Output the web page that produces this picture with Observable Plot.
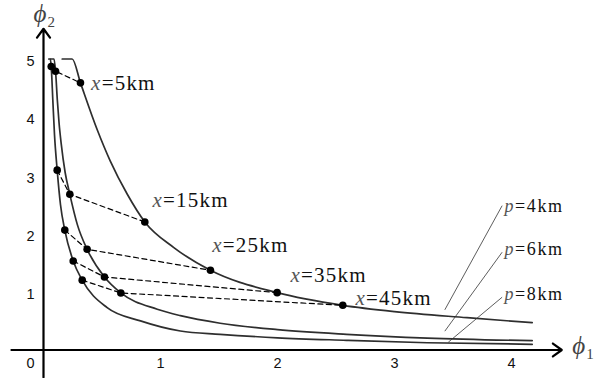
<!DOCTYPE html>
<html><head><meta charset="utf-8">
<script src="https://cdn.jsdelivr.net/npm/d3@7"></script>
<script src="https://cdn.jsdelivr.net/npm/@observablehq/plot@0.6"></script>
<style>body{margin:0;background:#fff}#chart{width:602px;height:378px}</style>
</head><body><div id="chart"></div>
<script>
// ---- data ----
const seriesNames = ["p=4km", "p=6km", "p=8km"];
const curveP4 = [[0.16,5.0],[0.245,5.0],[0.316,4.59],[0.46,3.78],[0.57,3.25],[0.715,2.68],[0.866,2.20],[1.114,1.76],[1.427,1.37],[1.997,0.985],[2.558,0.768],[3.0,0.66],[3.62,0.555],[4.177,0.469]];
const curveP6 = [[0.06,5.0],[0.09,5.0],[0.103,4.79],[0.118,4.3],[0.133,3.9],[0.151,3.55],[0.185,3.05],[0.225,2.675],[0.29,2.15],[0.373,1.73],[0.521,1.254],[0.661,0.98],[0.972,0.70],[1.17,0.59],[1.51,0.46],[2.0,0.35],[2.59,0.27],[3.28,0.205],[4.177,0.16]];
const curveP8 = [[0.045,5.0],[0.058,5.0],[0.066,4.87],[0.08,4.28],[0.094,3.7],[0.117,3.09],[0.145,2.5],[0.182,2.06],[0.254,1.53],[0.331,1.20],[0.544,0.727],[0.829,0.50],[1.17,0.326],[1.51,0.27],[2.0,0.21],[2.59,0.167],[3.28,0.125],[4.177,0.098]];
const distances = ["x=5km", "x=15km", "x=25km", "x=35km", "x=45km"];
const dotsP4 = [[0.316,4.59],[0.866,2.20],[1.427,1.37],[1.997,0.985],[2.558,0.768]];
const dotsP6 = [[0.103,4.79],[0.225,2.675],[0.373,1.73],[0.521,1.254],[0.661,0.98]];
const dotsP8 = [[0.066,4.87],[0.117,3.09],[0.182,2.06],[0.254,1.53],[0.331,1.20]];
const xTicks = [1, 2, 3, 4];
const yTicks = [1, 2, 3, 4, 5];
const xAxisTitle = "ϕ1";
const yAxisTitle = "ϕ2";

// ---- layout (annotation anchors, in data units) ----
const distLabelPos = [[0.407,4.58],[0.932,2.57],[1.442,1.795],[2.111,1.29],[2.667,0.885]];
const seriesLabelPos = [[3.94,2.47],[3.94,1.73],[3.94,0.95]];
const leaderEnds = [[3.43,0.69],[3.43,0.323],[3.46,0.134]];
const leaderStart = [[3.92,2.48],[3.92,1.68],[3.92,0.907]];
const xAxisExtent = [-0.274, 4.43];
const yAxisExtent = [-0.47, 5.52];

// ---- tables ----
const curves = [curveP4, curveP6, curveP8].flatMap((c, i) => c.map(([x, y]) => ({x, y, s: seriesNames[i]})));
const dotRows = [dotsP8, dotsP6, dotsP4].flatMap((d, j) => d.map(([x, y], i) => ({x, y, g: distances[i], order: j})));
const dashRows = d3.sort(dotRows, d => distances.indexOf(d.g), d => d.order);
const distLabels = distances.map((t, i) => ({t, x: distLabelPos[i][0], y: distLabelPos[i][1]}));
const seriesLabels = seriesNames.map((t, i) => ({t, x: seriesLabelPos[i][0], y: seriesLabelPos[i][1]}));
const leaders = seriesNames.map((t, i) => ({x1: leaderStart[i][0], y1: leaderStart[i][1], x2: leaderEnds[i][0], y2: leaderEnds[i][1]}));

const SERIF = "'Liberation Serif','Times New Roman',serif";
const SANS = "'Liberation Sans',Arial,sans-serif";

const svg = Plot.plot({
  width: 602, height: 378,
  marginTop: 0, marginRight: 0, marginBottom: 0, marginLeft: 0,
  x: {type: "linear", domain: [0, 4], range: [43, 511], axis: null},
  y: {type: "linear", domain: [0, 5], range: [349.5, 58.5], axis: null},
  style: {background: "white", overflow: "visible"},
  marks: [
    Plot.line(curves, {x: "x", y: "y", z: "s", curve: "monotone-x", stroke: "#2e2e2e", strokeWidth: 1.7}),
    Plot.line(dashRows, {x: "x", y: "y", z: "g", stroke: "#000", strokeWidth: 1.2, strokeDasharray: "5,3.5"}),
    Plot.dot(dotRows, {x: "x", y: "y", r: 3.8, fill: "#000", stroke: "none"}),
    Plot.link(leaders, {x1: "x1", y1: "y1", x2: "x2", y2: "y2", stroke: "#333", strokeWidth: 0.8}),
    Plot.arrow([0], {x1: xAxisExtent[0], x2: xAxisExtent[1], y1: 0, y2: 0, stroke: "#000", strokeWidth: 2.2, headAngle: 72, headLength: 7.5}),
    Plot.arrow([0], {x1: 0, x2: 0, y1: yAxisExtent[0], y2: yAxisExtent[1], stroke: "#000", strokeWidth: 2.2, headAngle: 72, headLength: 7.5}),
    Plot.text(xTicks, {x: d => d, y: 0, text: d => String(d), dy: 13.5, fontSize: 14.5, fill: "#111"}),
    Plot.text(yTicks, {x: 0, y: d => d, text: d => String(d), dx: -9, dy: 2.5, textAnchor: "end", fontSize: 14.5, fill: "#111"}),
    Plot.text([0], {x: 0, y: 0, text: ["0"], dx: -13, dy: 13.5, fontSize: 14.5, fill: "#111"}),
    Plot.text(distLabels, {x: "x", y: "y", text: "t", textAnchor: "start", fontSize: 21, fill: "#111"}),
    Plot.text(seriesLabels, {x: "x", y: "y", text: "t", textAnchor: "start", fontSize: 18, fill: "#111"}),
    Plot.text([yAxisTitle], {x: -0.085, y: 5.64, text: d => d, textAnchor: "start", lineAnchor: "bottom", fontSize: 25, fill: "#444"}),
    Plot.text([xAxisTitle], {x: 4.52, y: -0.077, text: d => d, textAnchor: "start", lineAnchor: "bottom", fontSize: 25, fill: "#444"})
  ]
});

// rich text: italic variable names and subscripts; fonts set inline
d3.select(svg).selectAll("text").each(function() {
  const s = this.textContent;
  const sel = d3.select(this);
  let m = /^([xp])=(.*)$/.exec(s);
  if (m) {
    sel.style("font-family", SERIF);
    sel.style("letter-spacing", m[1] === "p" ? "1.6px" : "1.2px");
    sel.text("");
    sel.append("tspan").style("font-style", "italic").attr("fill", "#555").text(m[1]);
    sel.append("tspan").text("=" + m[2]);
    return;
  }
  m = /^ϕ(\d)$/.exec(s);
  if (m) {
    sel.style("font-family", SERIF);
    sel.text("");
    sel.append("tspan").style("font-style", "italic").text("ϕ");
    sel.append("tspan").style("font-size", "15px").attr("dx", "1").attr("dy", "5").text(m[1]);
    return;
  }
  sel.style("font-family", SANS);
});

document.getElementById("chart").appendChild(svg);
</script>
</body></html>
